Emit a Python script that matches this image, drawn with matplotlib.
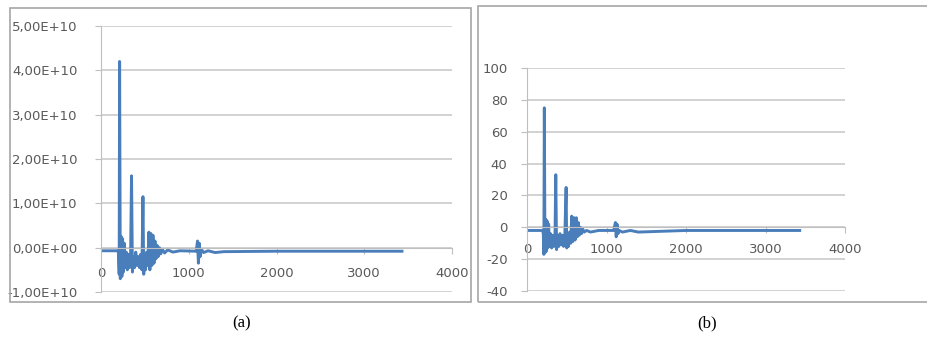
import matplotlib.pyplot as plt
from matplotlib.patches import Rectangle

# (a) signal, values in units of 1E+10
xa = [0, 190, 200, 207, 212, 220, 230, 238, 246, 255, 265, 276, 288, 300, 312, 325, 337,
      348, 358, 370, 383, 396, 410, 424, 438, 452, 466, 478, 487, 496, 507, 520, 533,
      546, 557, 568, 580, 592, 604, 615, 627, 640, 652, 665, 680, 700, 725, 760, 820,
      900, 1085, 1100, 1110, 1120, 1130, 1145, 1170, 1220, 1300, 1400, 2000, 3000, 3430]
ya = [-0.07, -0.07, -0.12, -0.6, 4.2, -0.7, 0.25, -0.65, 0.2, -0.55, 0.1, -0.45, -0.1,
      -0.5, -0.15, -0.45, -0.2, 1.62, -0.55, -0.2, -0.45, -0.1, -0.4, -0.2, -0.45, -0.15,
      -0.5, 1.15, -0.6, -0.2, -0.5, -0.1, -0.4, 0.35, -0.5, 0.32, -0.4, 0.28, -0.35, 0.15,
      -0.25, 0.05, -0.2, 0.0, -0.14, -0.04, -0.12, -0.05, -0.1, -0.07, -0.08, 0.15, -0.35,
      0.1, -0.2, -0.04, -0.11, -0.07, -0.11, -0.09, -0.08, -0.08, -0.08]

# (b) signal
xb = [0, 195, 205, 212, 218, 226, 236, 244, 252, 262, 272, 282, 295, 310, 325, 340, 352,
      362, 372, 385, 400, 415, 430, 445, 460, 475, 492, 500, 510, 522, 535, 550, 562,
      575, 590, 605, 620, 632, 645, 657, 670, 685, 700, 720, 750, 800, 900, 1090, 1112,
      1122, 1132, 1145, 1160, 1200, 1300, 1400, 2000, 3000, 3430]
yb = [-2, -2, -4, -17, 75, -16, 5, -15, 4, -13, 2, -12, -4, -13, -5, -12, -6, 33, -14,
      -5, -12, -4, -11, -5, -12, -6, 25, -13, -4, -12, -3, -10, 7, -9, 6, -8, 6, -6, 3,
      -5, 0, -4, -1, -3, -2, -3, -2, -2, 3, -6, 2, -4, -2, -3, -2, -3, -2, -2, -2]

xticks = [0, 1000, 2000, 3000, 4000]
yticks_a = [-1e10, 0, 1e10, 2e10, 3e10, 4e10, 5e10]
ylabels_a = ['-1,00E+10', '0,00E+00', '1,00E+10', '2,00E+10', '3,00E+10', '4,00E+10', '5,00E+10']
yticks_b = [-40, -20, 0, 20, 40, 60, 80, 100]

W, H = 927, 342
fig = plt.figure(figsize=(W / 100, H / 100), dpi=100)

def box(x0, y0, x1, y1):
    return [x0 / W, 1 - y1 / H, (x1 - x0) / W, (y1 - y0) / H]

line_col = '#4a7ebb'
grid_col = '#cfcfcf'
txt_col = '#595959'

def style(ax, yticks, ylabels, ypad, xpad):
    ax.set_xlim(0, 4000)
    ax.set_xticks(xticks)
    ax.set_xticklabels([str(v) for v in xticks])
    ax.set_yticks(yticks)
    ax.set_yticklabels(ylabels)
    ax.set_ylim(yticks[0], yticks[-1])
    ax.grid(axis='y', color=grid_col, linewidth=1.3)
    ax.set_axisbelow(True)
    for s in ['top', 'right']:
        ax.spines[s].set_visible(False)
    ax.spines['bottom'].set_position(('data', 0))
    ax.spines['bottom'].set_color('#bfbfbf')
    ax.spines['left'].set_color('#bfbfbf')
    ax.tick_params(axis='y', length=4, color='#bfbfbf', pad=ypad, labelsize=9.5, labelcolor=txt_col)
    ax.tick_params(axis='x', length=4, color='#bfbfbf', pad=xpad, labelsize=9.5, labelcolor=txt_col)
    ax.patch.set_alpha(0)

ax1 = fig.add_axes(box(101, 26, 452, 292))
ax1.plot(xa, [v * 1e10 for v in ya], color=line_col, linewidth=2.1)
style(ax1, yticks_a, ylabels_a, 13, 10)

ax2 = fig.add_axes(box(527, 68, 845, 291))
ax2.plot(xb, yb, color=line_col, linewidth=2.1)
style(ax2, yticks_b, [str(v) for v in yticks_b], 10, 7)

# chart frames
for x0, y0, x1, y1 in [(10, 8, 471, 302), (478, 6, 930, 302)]:
    fig.patches.append(Rectangle((x0 / W, 1 - y1 / H), (x1 - x0) / W, (y1 - y0) / H,
                                 transform=fig.transFigure, fill=False,
                                 edgecolor='#a6a6a6', linewidth=1.2))

fig.text(242 / W, 1 - 323 / H, '(a)', family='Liberation Serif', fontsize=12,
         ha='center', va='center')
fig.text(707 / W, 1 - 323 / H, '(b)', family='Liberation Serif', fontsize=12,
         ha='center', va='center')

fig.savefig('out.png', dpi=100)
